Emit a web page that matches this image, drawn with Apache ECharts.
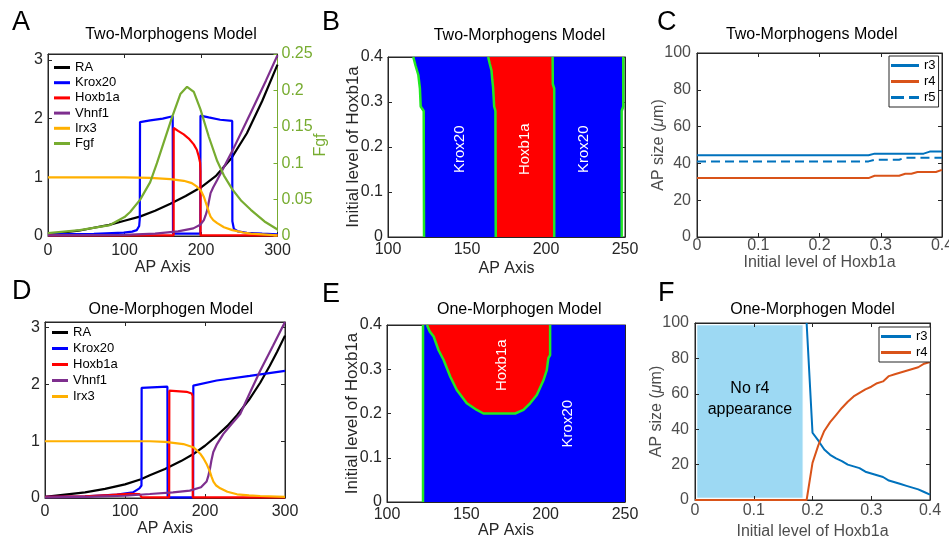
<!DOCTYPE html>
<html><head><meta charset="utf-8">
<script src="https://cdn.jsdelivr.net/npm/echarts@6/dist/echarts.min.js"></script>
<style>html,body{margin:0;padding:0;background:#fff}#c{width:949px;height:540px}</style>
</head><body><div id="c"></div>
<script>
// ---------------- Panel A (Two-Morphogens, profiles) ----------------
const A_RA = [[0,0.03],[20,0.06],[40,0.09],[60,0.14],[80,0.19],[100,0.26],[120,0.33],[140,0.43],[160,0.55],[180,0.68],[200,0.83],[220,1.03],[240,1.33],[260,1.75],[280,2.3],[300,2.92]];
const A_Krox20 = [[0,0.03],[60,0.035],[99,0.056],[110,0.075],[116,0.1],[119.2,0.17],[120,0.3],[120.3,1.94],[133.6,1.97],[150,2.0],[163,2.04],[163.4,0.04],[199.1,0.04],[199.3,2.05],[210,2.02],[225,1.98],[240.8,1.96],[241,0.25],[243,0.12],[248,0.08],[260,0.055],[280,0.04],[300,0.03]];
const A_Hoxb1a = [[0,0.01],[164.2,0.01],[164.3,1.84],[170,1.79],[177.4,1.73],[184,1.66],[190.5,1.56],[194.5,1.47],[197,1.36],[198.8,1.25],[199.3,1.1],[199.4,0.01],[300,0.01]];
const A_Vhnf1 = [[0,0.01],[100,0.02],[140,0.04],[170,0.08],[190,0.13],[199,0.19],[203.7,0.27],[206,0.35],[208.1,0.44],[210.5,0.6],[212.5,0.73],[216,0.83],[221,0.95],[241,1.45],[265,2.1],[285,2.65],[300,3.08]];
const A_Irx3 = [[0,1],[100,1],[133.6,0.99],[160,0.97],[177.5,0.94],[188,0.9],[194.8,0.84],[200,0.77],[203.7,0.67],[206,0.58],[208.1,0.5],[210.5,0.4],[212.5,0.33],[216,0.27],[221.2,0.22],[230,0.15],[241,0.1],[255,0.06],[265,0.04],[300,0.01]];
const A_Fgf = [[0,0.004],[41.6,0.008],[81,0.015],[100,0.026],[107.4,0.033],[120.5,0.05],[133.6,0.074],[142.4,0.1],[151.1,0.128],[162.1,0.163],[173,0.195],[181.8,0.205],[190.6,0.198],[199.3,0.174],[210.3,0.136],[221.2,0.103],[230,0.083],[241,0.064],[253,0.048],[265.1,0.036],[283,0.02],[300,0.009]];

// ---------------- Panel B (Two-Morphogens, boundaries) ----------------
const B_bound1 = [[122.8,0],[122.6,0.28],[120.7,0.29],[120.2,0.33],[119.2,0.36],[117.5,0.38],[116,0.4]];
const B_bound2 = [[168.2,0],[168,0.28],[167.2,0.29],[166.5,0.333],[166,0.35],[165.5,0.37],[164.4,0.385],[163.4,0.4]];
const B_bound3 = [[205.2,0],[205.2,0.33],[204.3,0.34],[204.2,0.4]];
const B_bound4 = [[247.9,0],[247.9,0.28],[248.9,0.29],[248.9,0.4]];
const B_regionNames = ['Krox20', 'Hoxb1a', 'Krox20'];

// ---------------- Panel C ----------------
const C_r3 = [[0,44.4],[0.28,44.4],[0.29,45.3],[0.37,45.3],[0.38,46.4],[0.4,46.4]];
const C_r4 = [[0,32],[0.28,32],[0.29,33.3],[0.33,33.3],[0.34,34.4],[0.35,34.4],[0.36,35.3],[0.39,35.3],[0.4,36.5]];
const C_r5 = [[0,41.1],[0.28,41.1],[0.29,42],[0.33,42],[0.34,43.1],[0.4,43.1]];

// ---------------- Panel D (One-Morphogen, profiles) ----------------
const D_RA = [[0,0.02],[25,0.06],[50,0.1],[75,0.16],[100,0.24],[120,0.33],[131,0.4],[150,0.51],[170,0.65],[185,0.77],[200,0.92],[215,1.1],[228,1.27],[240,1.46],[255,1.73],[269,2.03],[281,2.33],[290,2.57],[300,2.86]];
const D_Krox20 = [[0,0.02],[50,0.03],[90,0.06],[110,0.1],[118,0.17],[120.6,0.22],[120.8,1.94],[153,1.96],[153.3,0.01],[185.2,0.01],[185.4,1.98],[214.6,2.07],[256,2.15],[300,2.24]];
const D_Hoxb1a = [[0,0.02],[50,0.03],[80,0.05],[105,0.075],[118,0.07],[120.5,0.06],[121,0.01],[155.2,0.01],[155.4,1.89],[177,1.87],[183.3,1.84],[184.5,1.8],[184.7,0.01],[300,0.01]];
const D_Vhnf1 = [[0,0.01],[50,0.02],[100,0.04],[131,0.07],[160,0.1],[181,0.13],[195,0.19],[202,0.29],[204,0.38],[206.25,0.52],[208,0.66],[210.4,0.81],[215,0.95],[223,1.13],[233,1.3],[244,1.48],[256,1.85],[269,2.24],[285,2.68],[300,3.1]];
const D_Irx3 = [[0,1],[100,1],[131,1],[150,0.99],[173,0.95],[186,0.89],[194,0.78],[198,0.7],[202,0.6],[206,0.47],[208,0.38],[210.5,0.29],[214,0.22],[219,0.17],[228,0.11],[240,0.065],[255,0.045],[269,0.035],[300,0.02]];

// ---------------- Panel E (One-Morphogen, boundaries) ----------------
const E_bound1 = [[122.7,0],[122.7,0.4]];
const E_hoxCurve = [[125.2,0.4],[127,0.385],[129.4,0.374],[132.5,0.343],[135.7,0.321],[139.9,0.283],[144,0.253],[150.3,0.223],[156.6,0.208],[160.8,0.2],[180.8,0.2],[186,0.208],[190.2,0.223],[194.4,0.242],[198.6,0.275],[200.7,0.298],[201.7,0.325],[202.8,0.332],[202.8,0.4]];
const E_regionNames = ['Hoxb1a', 'Krox20'];

// ---------------- Panel F ----------------
const F_r3 = [[0.19,100],[0.2,38],[0.21,33.5],[0.22,28.5],[0.23,25.5],[0.24,23.5],[0.25,22],[0.26,20],[0.27,19],[0.28,18],[0.29,16],[0.3,15],[0.31,14],[0.32,13],[0.33,11],[0.34,10],[0.35,9],[0.36,8],[0.37,7],[0.38,6],[0.39,4.5],[0.4,3]];
const F_r4 = [[0,0],[0.19,0],[0.2,21],[0.21,31],[0.22,39],[0.23,44],[0.24,48],[0.25,52],[0.26,55.5],[0.27,58.5],[0.28,60.5],[0.29,62.5],[0.3,64],[0.31,66],[0.32,67],[0.33,70],[0.34,71],[0.35,72],[0.36,73],[0.37,74],[0.38,75],[0.39,77],[0.4,78]];
const F_noR4 = [0.003, 0.184, 1, 99];

// ---------------- styling ----------------
const FONT = '"Liberation Sans", Arial, Helvetica, sans-serif';
const DARK = '#262626';
const GRAY = '#4d4d4d';
const GREEN_AX = '#77AC30';
const BND = '#22E822';
const COL = {RA:'#000000', Krox20:'#0000FF', Hoxb1a:'#FF0000', Vhnf1:'#7E2F8E', Irx3:'#FFB000', Fgf:'#77AC30', r3:'#0072BD', r4:'#D95319'};
const TICK = 16;

function axes(kind, gridIndex, min, max, interval, o) {
  o = o || {};
  const lc = o.lineColor || DARK;
  const main = {
    type:'value', gridIndex, min, max, interval,
    position: kind === 'x' ? 'bottom' : 'left',
    axisLine:{show:true, onZero:false, lineStyle:{color:lc, width:1}},
    axisTick:{show:true, inside:true, length:4, lineStyle:{color:lc}},
    axisLabel:{show:true, color:o.labelColor || DARK, fontSize:TICK, margin:o.margin, fontFamily:FONT, formatter:o.formatter},
    splitLine:{show:false},
    name:o.name || '', nameLocation:'middle', nameGap:o.nameGap, nameRotate: kind === 'y' ? 90 : 0,
    nameMoveOverlap:false,
    nameTextStyle:{color:o.nameColor || DARK, fontSize:o.nameSize || 16, fontFamily:FONT, rich:o.rich}
  };
  const out = [main];
  if (!o.noMirror) {
    out.push({
      type:'value', gridIndex, min, max, interval,
      position: kind === 'x' ? 'top' : 'right',
      axisLine:{show:true, onZero:false, lineStyle:{color:lc, width:1}},
      axisTick:{show:true, inside:true, length:4, lineStyle:{color:lc}},
      axisLabel:{show:false}, splitLine:{show:false}
    });
  }
  return out;
}
const intOnly = v => (Math.abs(v - Math.round(v)) < 1e-9 ? String(Math.round(v)) : '');

const grids = [
  {left:48, top:54, width:229.5, height:182},   // A
  {left:388, top:57, width:237, height:180},    // B
  {left:697, top:53, width:245, height:184},    // C
  {left:45, top:322, width:240, height:176},    // D
  {left:387, top:325, width:238, height:177},   // E
  {left:695, top:323, width:235, height:177}    // F
].map(g => Object.assign({show:true, borderColor:DARK, borderWidth:1, backgroundColor:'transparent', containLabel:false, outerBoundsMode:'none'}, g));

const muRich = {a:{fontSize:16, color:GRAY, fontFamily:FONT}, b:{fontSize:16, color:GRAY, fontFamily:FONT, fontStyle:'italic'}};

const xAxis = [].concat(
  axes('x', 0, 0, 300, 100, {name:'AP Axis', nameGap:24, margin:7}),                 // 0,1
  axes('x', 1, 100, 250, 50, {name:'AP Axis', nameGap:24, margin:5}),                // 2,3
  axes('x', 2, 0, 0.4, 0.1, {name:'Initial level of Hoxb1a', nameGap:18, margin:1, labelColor:GRAY, nameColor:GRAY}), // 4,5
  axes('x', 3, 0, 300, 100, {name:'AP Axis', nameGap:23, margin:6}),                 // 6,7
  axes('x', 4, 100, 250, 50, {name:'AP Axis', nameGap:21, margin:5}),                // 8,9
  axes('x', 5, 0, 0.4, 0.1, {name:'Initial level of Hoxb1a', nameGap:24, margin:3, labelColor:GRAY, nameColor:GRAY})  // 10,11
);
const yAxis = [].concat(
  axes('y', 0, 0, 3.1, 1, {noMirror:true, formatter:intOnly, margin:5}),            // 0
  [{type:'value', gridIndex:0, position:'right', min:0, max:0.25, interval:0.05,
    axisLine:{show:true, onZero:false, lineStyle:{color:GREEN_AX, width:1}},
    axisTick:{show:true, inside:true, length:4, lineStyle:{color:GREEN_AX}},
    axisLabel:{color:GREEN_AX, fontSize:TICK, margin:4, fontFamily:FONT},
    splitLine:{show:false}, name:'Fgf', nameLocation:'middle', nameGap:35, nameRotate:90, nameMoveOverlap:false,
    nameTextStyle:{color:GREEN_AX, fontSize:16, fontFamily:FONT}}],                  // 1
  axes('y', 1, 0, 0.4, 0.1, {name:'Initial level of Hoxb1a', nameGap:26, margin:5, nameSize:17}), // 2,3
  axes('y', 2, 0, 100, 20, {name:'{a|AP size (}{b|μ}{a|m)}', rich:muRich, nameGap:30, margin:6, labelColor:GRAY, nameColor:GRAY}), // 4,5
  axes('y', 3, 0, 3.1, 1, {formatter:intOnly, margin:5}),                            // 6,7
  axes('y', 4, 0, 0.4, 0.1, {name:'Initial level of Hoxb1a', nameGap:26, margin:5, nameSize:17}), // 8,9
  axes('y', 5, 0, 100, 20, {name:'{a|AP size (}{b|μ}{a|m)}', rich:muRich, nameGap:30, margin:6, labelColor:GRAY, nameColor:GRAY})  // 10,11
);

function ln(name, data, color, xi, yi, extra) {
  return Object.assign({type:'line', name, data, xAxisIndex:xi, yAxisIndex:yi, symbol:'none', showSymbol:false,
    lineStyle:{color, width:2.2}, itemStyle:{color}, animation:false, z:3, clip:true}, extra || {});
}
function poly(pts, color, xi, yi) {
  return {type:'custom', xAxisIndex:xi, yAxisIndex:yi, silent:true, animation:false, z:1,
    data:[pts[0]],
    renderItem:(params, api) => ({type:'polygon', shape:{points:pts.map(p => api.coord(p))}, style:{fill:color}})};
}
function bline(data, xi, yi) {
  return {type:'line', data, xAxisIndex:xi, yAxisIndex:yi, symbol:'none', silent:true, animation:false, z:4,
    lineStyle:{color:BND, width:2.5}, itemStyle:{color:BND}};
}
// region names drawn as rotated white text at data positions
function regionText(names, positions, xi, yi) {
  return {type:'custom', xAxisIndex:xi, yAxisIndex:yi, silent:true, animation:false, z:6,
    data:positions,
    renderItem:(params, api) => {
      const p = api.coord([api.value(0), api.value(1)]);
      return {type:'text', x:p[0], y:p[1], rotation:Math.PI/2,
        style:{text:names[params.dataIndex], fill:'#ffffff', fontSize:15, fontFamily:FONT, align:'center', verticalAlign:'middle'}};
    }};
}
const rev = a => a.slice().reverse();

const series = [
  // A
  ln('RA', A_RA, COL.RA, 0, 0),
  ln('Krox20', A_Krox20, COL.Krox20, 0, 0),
  ln('Hoxb1a', A_Hoxb1a, COL.Hoxb1a, 0, 0),
  ln('Vhnf1', A_Vhnf1, COL.Vhnf1, 0, 0),
  ln('Irx3', A_Irx3, COL.Irx3, 0, 0),
  ln('Fgf', A_Fgf, COL.Fgf, 0, 1),
  // B
  poly(B_bound1.concat(rev(B_bound2)), '#0000FF', 2, 2),
  poly(B_bound2.concat(rev(B_bound3)), '#FF0000', 2, 2),
  poly(B_bound3.concat(rev(B_bound4)), '#0000FF', 2, 2),
  bline(B_bound1, 2, 2), bline(B_bound2, 2, 2), bline(B_bound3, 2, 2), bline(B_bound4, 2, 2),
  regionText(B_regionNames, [[145.4,0.195],[186.6,0.195],[224,0.195]], 2, 2),
  // C
  ln('r3', C_r3, COL.r3, 4, 4, {lineStyle:{color:COL.r3, width:2}}),
  ln('r4', C_r4, COL.r4, 4, 4, {lineStyle:{color:COL.r4, width:2}}),
  ln('r5', C_r5, COL.r3, 4, 4, {lineStyle:{color:COL.r3, width:2, type:[9,5]}}),
  // D
  ln('RA', D_RA, COL.RA, 6, 6),
  ln('Krox20', D_Krox20, COL.Krox20, 6, 6),
  ln('Hoxb1a', D_Hoxb1a, COL.Hoxb1a, 6, 6),
  ln('Vhnf1', D_Vhnf1, COL.Vhnf1, 6, 6),
  ln('Irx3', D_Irx3, COL.Irx3, 6, 6),
  // E
  poly([[E_bound1[0][0],0],[250,0],[250,0.4],[E_bound1[1][0],0.4]], '#0000FF', 8, 8),
  poly(E_hoxCurve, '#FF0000', 8, 8),
  bline(E_bound1, 8, 8), bline(E_hoxCurve, 8, 8),
  regionText(E_regionNames, [[172.4,0.309],[214.3,0.177]], 8, 8),
  // F
  ln('r3', F_r3, COL.r3, 10, 10, {lineStyle:{color:COL.r3, width:2}}),
  ln('r4', F_r4, COL.r4, 10, 10, {lineStyle:{color:COL.r4, width:2},
    markArea:{silent:true, z:0, itemStyle:{color:'#9DD9F3', borderColor:'#ffffff', borderWidth:1},
      label:{show:true, position:'inside', offset:[0,-12], formatter:'No r4\nappearance', fontSize:16, lineHeight:21, color:'#000', fontFamily:FONT},
      data:[[{xAxis:F_noR4[0], yAxis:F_noR4[2]}, {xAxis:F_noR4[1], yAxis:F_noR4[3]}]]}})
];

const legTxt = {fontSize:13, color:'#000', fontFamily:FONT, lineHeight:13};
const legend = [
  {data:['RA','Krox20','Hoxb1a','Vhnf1','Irx3','Fgf'], orient:'vertical', left:54, top:61, itemWidth:16, itemHeight:3, itemGap:2.2, icon:'rect', padding:0, textStyle:legTxt, selectedMode:false},
  {data:['RA','Krox20','Hoxb1a','Vhnf1','Irx3'], orient:'vertical', left:52, top:326, itemWidth:16, itemHeight:3, itemGap:3, icon:'rect', padding:0, textStyle:legTxt, selectedMode:false},
  {data:[{name:'r3', icon:'rect'}, {name:'r4', icon:'rect'}, {name:'r5', icon:'path://M0,0H13V3H0Z M18,0H28V3H18Z'}], orient:'vertical', left:889, top:56, itemWidth:28, itemHeight:3, itemGap:3, padding:[3,3,3,2], borderColor:DARK, borderWidth:1, backgroundColor:'#fff', textStyle:legTxt, selectedMode:false},
  {data:[{name:'r3', icon:'rect'}, {name:'r4', icon:'rect'}], orient:'vertical', left:879, top:327, itemWidth:30, itemHeight:3, itemGap:3, padding:[3,3,3,2], borderColor:DARK, borderWidth:1, backgroundColor:'#fff', textStyle:legTxt, selectedMode:false}
];

function txt(text, x, y, size, align) {
  return {type:'text', x, y, silent:true, style:{text, fontSize:size, fontFamily:FONT, fill:'#000', align:align || 'center', textAlign:align || 'center', verticalAlign:'middle', textVerticalAlign:'middle'}};
}
const graphic = [
  txt('Two-Morphogens Model', 171, 35, 16), txt('Two-Morphogens Model', 519.5, 36, 16), txt('Two-Morphogens Model', 811.7, 35, 16),
  txt('One-Morphogen Model', 170.8, 309.5, 16), txt('One-Morphogen Model', 519.3, 309.5, 16), txt('One-Morphogen Model', 812.5, 309.5, 16),
  txt('A', 12, 23, 27, 'left'), txt('B', 322, 23, 27, 'left'), txt('C', 657, 23, 27, 'left'),
  txt('D', 12, 292, 27, 'left'), txt('E', 322, 295, 27, 'left'), txt('F', 658, 294, 27, 'left')
];

const chart = echarts.init(document.getElementById('c'), null, {renderer:'canvas'});
chart.setOption({
  animation:false, backgroundColor:'#fff',
  textStyle:{fontFamily:FONT},
  grid:grids, xAxis, yAxis, series, legend, graphic
});
</script></body></html>
